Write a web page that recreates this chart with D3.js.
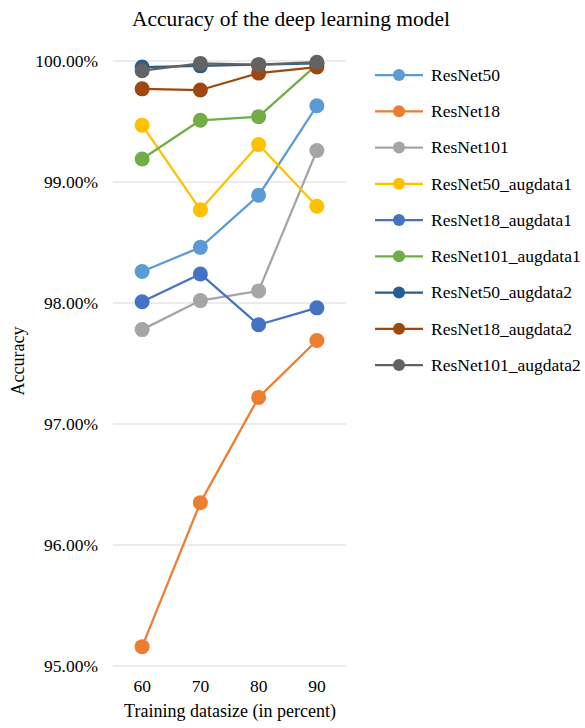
<!DOCTYPE html>
<html>
<head>
<meta charset="utf-8">
<script src="https://cdn.jsdelivr.net/npm/d3@7"></script>
<style>
  html, body { margin: 0; padding: 0; background: #fff; }
  svg { display: block; }
</style>
</head>
<body>
<svg id="chart" width="585" height="728"></svg>
<script>
// Training data size (percent) on the x axis
const categories = ["60", "70", "80", "90"];

// Accuracy (%) per model and training size
const seriesNames = [
  "ResNet50", "ResNet18", "ResNet101",
  "ResNet50_augdata1", "ResNet18_augdata1", "ResNet101_augdata1",
  "ResNet50_augdata2", "ResNet18_augdata2", "ResNet101_augdata2"
];
const resnet50          = [98.26, 98.46, 98.89, 99.63];
const resnet18          = [95.16, 96.35, 97.22, 97.69];
const resnet101         = [97.78, 98.02, 98.10, 99.26];
const resnet50Aug1      = [99.47, 98.77, 99.31, 98.80];
const resnet18Aug1      = [98.01, 98.24, 97.82, 97.96];
const resnet101Aug1     = [99.19, 99.51, 99.54, 99.97];
const resnet50Aug2      = [99.95, 99.96, 99.97, 99.98];
const resnet18Aug2      = [99.77, 99.76, 99.90, 99.95];
const resnet101Aug2     = [99.92, 99.98, 99.97, 99.99];
const seriesValues = [resnet50, resnet18, resnet101, resnet50Aug1, resnet18Aug1,
                      resnet101Aug1, resnet50Aug2, resnet18Aug2, resnet101Aug2];
const seriesColors = ["#5B9BD5", "#ED7D31", "#A5A5A5", "#FFC000", "#4472C4",
                      "#70AD47", "#255E91", "#9E480E", "#636363"];

const yTicks = [95, 96, 97, 98, 99, 100];

const FONT = "'Liberation Serif', 'Times New Roman', serif";
const svg = d3.select("#chart").style("font-family", FONT);
const plot = { left: 113, right: 346, top: 61, bottom: 666 };

const x = d3.scaleBand().domain(categories).range([plot.left, plot.right]);
const y = d3.scaleLinear().domain([95, 100]).range([plot.bottom, plot.top]);

// Horizontal gridlines
svg.append("g")
  .selectAll("line")
  .data(yTicks)
  .join("line")
  .attr("x1", plot.left).attr("x2", plot.right)
  .attr("y1", d => y(d)).attr("y2", d => y(d))
  .attr("stroke", "#D9D9D9").attr("stroke-width", 1);

// Y axis labels
const yAxis = d3.axisLeft(y).tickValues(yTicks)
  .tickFormat(d => d.toFixed(2) + "%").tickSize(0).tickPadding(15);
const gy = svg.append("g").attr("transform", `translate(${plot.left},0)`).call(yAxis)
  .attr("font-family", FONT).attr("font-size", 17.5);
gy.select(".domain").remove();
gy.selectAll("text").attr("font-family", FONT).attr("fill", "#000").attr("dy", "0.34em");

// X axis labels
const xAxis = d3.axisBottom(x).tickSize(0).tickPadding(14);
const gx = svg.append("g").attr("transform", `translate(0,${plot.bottom})`).call(xAxis)
  .attr("font-family", FONT).attr("font-size", 17.5);
gx.select(".domain").remove();
gx.selectAll("text").attr("font-family", FONT).attr("fill", "#000");

// Series lines and markers
const line = d3.line()
  .x((d, i) => x(categories[i]) + x.bandwidth() / 2)
  .y(d => y(d));

seriesValues.forEach((vals, s) => {
  const g = svg.append("g");
  g.append("path")
    .datum(vals)
    .attr("d", line)
    .attr("fill", "none")
    .attr("stroke", seriesColors[s])
    .attr("stroke-width", 2.25)
    .attr("stroke-linejoin", "round");
  g.selectAll("circle")
    .data(vals)
    .join("circle")
    .attr("cx", (d, i) => x(categories[i]) + x.bandwidth() / 2)
    .attr("cy", d => y(d))
    .attr("r", 7.5)
    .attr("fill", seriesColors[s]);
});

// Title
svg.append("text")
  .attr("x", 291).attr("y", 26)
  .attr("text-anchor", "middle")
  .attr("font-size", 21.5)
  .text("Accuracy of the deep learning model");

// Axis titles
svg.append("text")
  .attr("x", 230).attr("y", 717)
  .attr("text-anchor", "middle")
  .attr("font-size", 18)
  .text("Training datasize (in percent)");

svg.append("text")
  .attr("transform", "translate(24,361) rotate(-90)")
  .attr("text-anchor", "middle")
  .attr("font-size", 18)
  .text("Accuracy");

// Legend
const legend = svg.append("g");
const legendTop = 75, legendStep = 36.25;
seriesNames.forEach((name, s) => {
  const ly = legendTop + s * legendStep;
  legend.append("line")
    .attr("x1", 375).attr("x2", 423).attr("y1", ly).attr("y2", ly)
    .attr("stroke", seriesColors[s]).attr("stroke-width", 2.25);
  legend.append("circle")
    .attr("cx", 399).attr("cy", ly).attr("r", 6)
    .attr("fill", seriesColors[s]);
  legend.append("text")
    .attr("x", 431).attr("y", ly)
    .attr("dy", "0.34em")
    .attr("font-size", 17.5)
    .text(name);
});
</script>
</body>
</html>
